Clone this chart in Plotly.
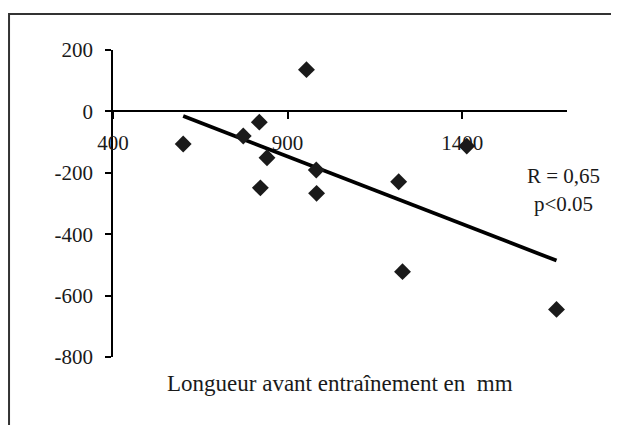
import plotly.graph_objects as go

# Data
longueur_mm = [601, 773, 819, 841, 822, 954, 982, 983, 1218, 1229, 1413, 1670]
variation = [-106, -80, -35, -151, -249, 136, -191, -267, -229, -522, -113, -645]

trend_x = [601, 1670]
trend_y = [-15, -486]

x_ticks = [400, 900, 1400]
y_ticks = [-800, -600, -400, -200, 0, 200]

stat_lines = ["R = 0,65", "p<0.05"]
x_title = "Longueur avant entraînement en  mm"

FONT = "Liberation Serif"

fig = go.Figure()
fig.add_trace(go.Scatter(
    x=trend_x, y=trend_y, mode="lines",
    line=dict(color="black", width=3.8),
    hoverinfo="skip", showlegend=False,
))
fig.add_trace(go.Scatter(
    x=longueur_mm, y=variation, mode="markers",
    marker=dict(symbol="diamond", size=13, color="#1a1a1a",
                line=dict(width=0)),
    showlegend=False,
))

fig.update_layout(
    width=611, height=417,
    margin=dict(l=105, r=52, t=42, b=68),
    paper_bgcolor="white", plot_bgcolor="white",
    font=dict(family=FONT, size=21, color="#1a1a1a"),
    showlegend=False,
    xaxis=dict(
        range=[400, 1700], tickvals=x_ticks, ticktext=[str(v) for v in x_ticks],
        showgrid=False, zeroline=False,
        showline=True, linecolor="black", linewidth=1.5,
        ticks="outside", ticklen=7, tickwidth=1.5, tickcolor="black",
        anchor="free", position=0.8, ticklabelstandoff=6,
        layer="below traces",
    ),
    yaxis=dict(
        range=[-800, 200], tickvals=y_ticks, ticktext=[str(v) for v in y_ticks],
        showgrid=False, zeroline=False,
        showline=True, linecolor="black", linewidth=1.5,
        ticks="outside", ticklen=6, tickwidth=1.5, tickcolor="black",
        ticklabelstandoff=8,
        layer="below traces",
    ),
    annotations=[
        dict(x=1690, y=-210, xref="x", yref="y", text=stat_lines[0],
             showarrow=False, xanchor="center", yanchor="middle",
             font=dict(family=FONT, size=21, color="#1a1a1a")),
        dict(x=1690, y=-302, xref="x", yref="y", text=stat_lines[1],
             showarrow=False, xanchor="center", yanchor="middle",
             font=dict(family=FONT, size=21, color="#1a1a1a")),
        dict(x=0.5, y=-0.085, xref="paper", yref="paper", text=x_title,
             showarrow=False, xanchor="center", yanchor="middle",
             font=dict(family=FONT, size=23, color="#1a1a1a")),
    ],
    shapes=[
        dict(type="rect", xref="paper", yref="paper",
             x0=-0.229, x1=1.3, y0=-0.4, y1=1.117,
             line=dict(color="#333333", width=2), fillcolor="rgba(0,0,0,0)"),
    ],
)

fig.write_html("out.html")
